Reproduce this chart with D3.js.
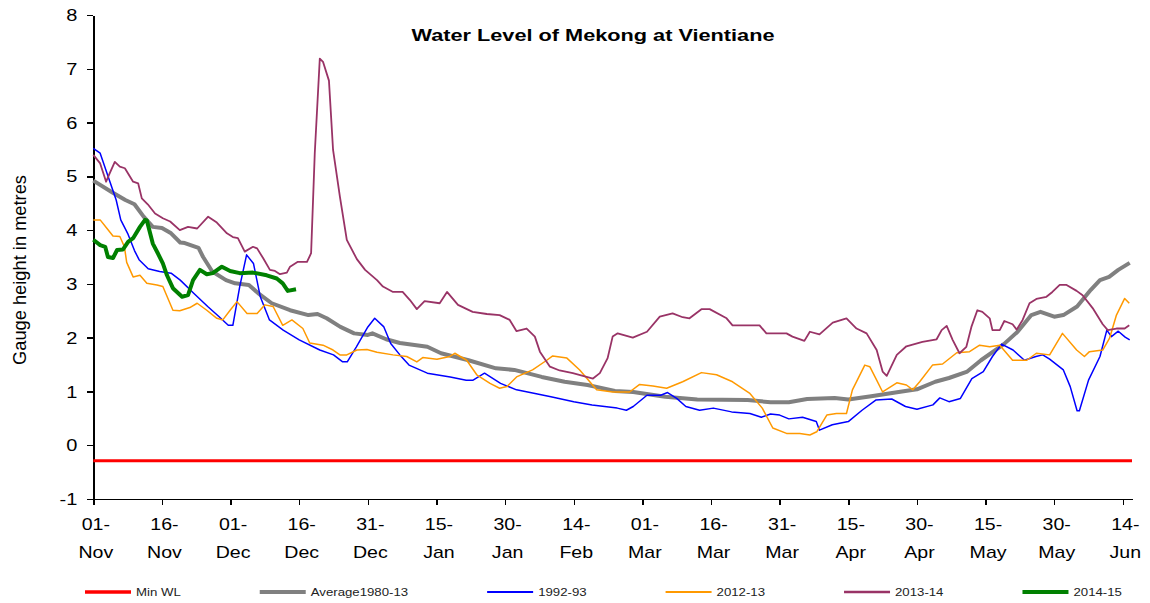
<!DOCTYPE html>
<html>
<head>
<meta charset="utf-8">
<title>Water Level of Mekong at Vientiane</title>
<script src="https://cdn.jsdelivr.net/npm/d3@7"></script>
<style>
    body{ margin:0; background:#fff; }
    text{ font-family:"Liberation Sans", Arial, sans-serif; fill:#000; }
    .axis path, .axis line{ stroke:#000; stroke-width:1.5; shape-rendering:crispEdges; }
    .series{ fill:none; stroke-linejoin:round; }
</style>
</head>
<body>
<script>
// days counted from 01-Nov (day 0) to 16-Jun (day 227)
var tickDays   = [0,15,30,45,60,75,90,105,120,135,150,165,180,195,210,225];
var tickLabels = ["01-Nov","16-Nov","01-Dec","16-Dec","31-Dec","15-Jan","30-Jan","14-Feb",
                  "01-Mar","16-Mar","31-Mar","15-Apr","30-Apr","15-May","30-May","14-Jun"];
var yTicks = [-1,0,1,2,3,4,5,6,7,8];

var seriesNames = ["Min WL","Average1980-13","1992-93","2012-13","2013-14","2014-15"];

// [day, gauge height m]
var minWL = [[0,-0.29],[227,-0.29]];

var avg8013 = [[0,4.92],[4,4.71],[7,4.56],[9,4.48],[11,4.25],[13,4.06],[15,4.04],[17,3.94],[19,3.77],
    [20,3.76],[23,3.67],[24,3.50],[26,3.23],[29,3.07],[31,3.01],[34,2.98],[36,2.83],[39,2.64],[43,2.51],
    [47,2.42],[49,2.44],[51,2.36],[54,2.20],[57,2.08],[60,2.05],[61,2.08],[64,1.97],[67,1.90],[73,1.83],
    [76,1.71],[82,1.58],[88,1.43],[92,1.40],[98,1.27],[103,1.18],[108,1.12],[114,1.01],[118,0.99],
    [125,0.90],[132,0.85],[143,0.84],[148,0.80],[152,0.80],[156,0.86],[162,0.88],[165,0.85],[170,0.91],
    [176,0.99],[180,1.04],[184,1.18],[187,1.25],[191,1.37],[194,1.58],[199,1.88],[202,2.11],[205,2.42],
    [207,2.48],[210,2.39],[212,2.42],[215,2.58],[218,2.89],[220,3.07],[222,3.13],[224,3.26],[226.5,3.39]];

var y1992 = [[0,5.52],[1.5,5.43],[3.5,4.93],[5,4.56],[6,4.19],[7.5,3.94],[9,3.62],[10,3.45],[12,3.28],
    [14.5,3.23],[17,3.20],[19,3.07],[22,2.82],[25,2.58],[27.5,2.39],[29.5,2.23],[30.5,2.23],[32,2.95],
    [33.5,3.54],[35,3.38],[36.5,2.76],[38.5,2.33],[41.5,2.14],[45,1.96],[49.5,1.77],[52.5,1.68],
    [54.5,1.55],[55.5,1.55],[57.5,1.83],[60,2.20],[61.5,2.36],[63.5,2.20],[65,1.89],[67,1.68],[69,1.49],
    [73,1.34],[78,1.27],[81.5,1.21],[83,1.21],[85.5,1.34],[89,1.15],[92.5,1.03],[96,0.97],[100,0.90],
    [105,0.81],[109,0.75],[114.5,0.69],[116.5,0.65],[118,0.72],[121,0.93],[124,0.93],[125.5,0.98],
    [127.5,0.87],[129.5,0.72],[132.5,0.65],[135.5,0.69],[139.5,0.62],[143.5,0.59],[146,0.52],[148,0.58],
    [150,0.56],[152,0.49],[155,0.52],[158,0.44],[158.7,0.28],[161.5,0.38],[165,0.44],[168,0.65],
    [171,0.84],[174.5,0.86],[177.5,0.72],[180,0.67],[183.5,0.75],[185,0.88],[187,0.81],[189.5,0.87],
    [192,1.24],[194.5,1.37],[196.5,1.65],[198.5,1.88],[201,1.77],[203.5,1.58],[206,1.65],[207.5,1.68],
    [209,1.60],[212,1.40],[213.5,1.09],[215,0.64],[215.5,0.64],[217.5,1.21],[220,1.65],[221.5,2.14],
    [222.5,2.02],[224,2.12],[225.5,2.01],[226.5,1.96]];

var y2012 = [[0,4.19],[1.5,4.19],[3,4.03],[4.3,3.89],[5.8,3.88],[6.8,3.69],[7.3,3.40],[8.7,3.13],
    [10.2,3.16],[11.7,3.01],[13.9,2.98],[15.2,2.95],[17.4,2.51],[18.9,2.50],[21.1,2.56],[22.7,2.64],
    [24.8,2.51],[27,2.36],[28.3,2.33],[29.9,2.51],[31.4,2.67],[33.6,2.45],[35.8,2.45],[37.5,2.61],
    [39.3,2.58],[41.4,2.23],[43.4,2.33],[45.8,2.17],[47.3,1.90],[50.2,1.86],[52.4,1.77],[53.9,1.68],
    [55.4,1.68],[57.6,1.77],[59.8,1.78],[62,1.73],[65.5,1.68],[68.5,1.65],[70.7,1.55],[72,1.63],
    [75.1,1.60],[77.9,1.65],[79,1.71],[81.6,1.58],[83.8,1.31],[86.7,1.15],[88.8,1.06],[90.4,1.09],
    [92.5,1.27],[96,1.40],[99.1,1.58],[100.4,1.66],[103.5,1.62],[106.3,1.40],[110,1.03],[113.5,0.99],
    [117.2,0.99],[119.4,1.13],[122.3,1.10],[125.3,1.06],[128.8,1.18],[132.9,1.35],[136.2,1.31],
    [139.7,1.18],[143.4,0.97],[146.2,0.69],[148.5,0.32],[151.5,0.22],[154.4,0.22],[156.6,0.19],
    [158.1,0.25],[160.3,0.56],[162.4,0.59],[164.6,0.59],[165.9,1.03],[168.6,1.49],[169.7,1.46],
    [171.2,1.21],[172.5,0.99],[175.6,1.16],[177.7,1.12],[179.1,1.03],[180.6,1.18],[183.4,1.49],
    [185.6,1.51],[188.7,1.72],[191.5,1.74],[193.7,1.86],[195.9,1.83],[198.1,1.86],[200.9,1.58],
    [204,1.58],[206.1,1.71],[209,1.68],[211.8,2.08],[214.9,1.77],[216.6,1.65],[217.7,1.74],[220.6,1.77],
    [222.1,1.99],[223.6,2.42],[225.4,2.73],[226.4,2.64]];

var y2013 = [[0,5.40],[1.5,5.24],[2.8,4.90],[3.6,5.06],[4.7,5.27],[5.8,5.18],[6.9,5.15],[8.7,4.90],
    [9.8,4.87],[10.6,4.59],[11.9,4.48],[13.5,4.31],[15.2,4.22],[16.8,4.16],[18.9,4.00],[20.7,4.06],
    [22.7,4.03],[25.1,4.25],[27,4.14],[29.2,3.94],[30.5,3.87],[31.6,3.85],[33.1,3.60],[34.9,3.69],
    [35.8,3.66],[37.1,3.48],[38.6,3.26],[39.7,3.24],[40.8,3.18],[42.3,3.21],[43,3.32],[44.7,3.41],
    [46.7,3.41],[47.6,3.57],[48.4,5.43],[49.5,7.19],[50.2,7.13],[51.5,6.78],[52.4,5.49],[53.9,4.62],
    [55.4,3.82],[57.6,3.46],[59.4,3.26],[62,3.07],[63.3,2.95],[65.5,2.85],[67.6,2.85],[69.2,2.70],
    [70.7,2.53],[72.4,2.68],[75.7,2.64],[77.3,2.85],[79.7,2.61],[82.9,2.48],[86,2.44],[88.8,2.42],
    [91,2.33],[92.5,2.12],[94.7,2.17],[96.5,2.02],[97.6,1.74],[99.8,1.46],[101.9,1.39],[104.8,1.34],
    [107.8,1.27],[109.2,1.24],[110.7,1.34],[112.4,1.62],[113.5,2.02],[114.6,2.08],[117.9,2.00],
    [121,2.11],[123.8,2.39],[126.6,2.45],[128.8,2.38],[130.3,2.36],[132.9,2.53],[134.7,2.53],
    [138.4,2.36],[139.7,2.23],[145.6,2.23],[147.1,2.08],[151.5,2.08],[152.8,2.02],[155.4,1.94],
    [156.6,2.11],[158.7,2.06],[161.6,2.28],[164.6,2.36],[166.8,2.17],[169,2.08],[171.2,1.77],
    [172.5,1.37],[173.4,1.29],[175.6,1.68],[177.7,1.84],[181.2,1.92],[184.3,1.97],[185.4,2.14],
    [186.5,2.22],[187.8,1.96],[189.3,1.71],[190.8,1.83],[191.9,2.20],[193.2,2.51],[194.3,2.48],
    [195.9,2.36],[196.5,2.14],[198.1,2.14],[199.1,2.31],[200.9,2.25],[201.8,2.15],[203.1,2.33],
    [204.6,2.64],[206.1,2.72],[208.3,2.76],[209.6,2.85],[211.2,2.98],[212.7,2.98],[214.9,2.87],
    [216.2,2.79],[218.4,2.55],[220.6,2.25],[221.7,2.14],[223.6,2.17],[225.4,2.17],[226.4,2.23]];

var y2014 = [[0,3.82],[1.5,3.72],[2.6,3.69],[3.2,3.50],[4.3,3.48],[5.2,3.63],[6.5,3.64],[7.6,3.78],
    [8.7,3.85],[10.2,4.06],[11.3,4.19],[11.7,4.18],[13,3.75],[14.1,3.57],[15.2,3.38],[16.1,3.16],
    [17.4,2.92],[19.4,2.76],[20.7,2.79],[21.8,3.07],[23.3,3.26],[24.8,3.18],[26.1,3.20],[28.1,3.32],
    [29.9,3.24],[32,3.20],[34.9,3.21],[37.9,3.16],[40.1,3.10],[41.4,3.01],[42.5,2.87],[44.3,2.90]];

var seriesData   = [minWL, avg8013, y1992, y2012, y2013, y2014];
var seriesColors = ["#ff0000","#808080","#0000ff","#ff9900","#993366","#008000"];
var seriesWidths = [3, 4, 1.5, 1.5, 1.8, 4];

var width = 1150, height = 603;
var svg = d3.select("body").append("svg")
    .attr("width", width)
    .attr("height", height);
svg.append("rect").attr("width", width).attr("height", height).attr("fill", "#fff");

var x = d3.scaleLinear().domain([0, 227]).range([93.3, 1132]);
var y = d3.scaleLinear().domain([-1, 8]).range([499, 15]);

// stretch text horizontally (the original chart's lettering is wide)
function stretch(sel, k){
    sel.each(function(){
        var w = this.getComputedTextLength();
        d3.select(this).attr("textLength", w * k).attr("lengthAdjust", "spacingAndGlyphs");
    });
}

// y axis
var yAxis = svg.append("g").attr("class", "axis")
    .attr("transform", "translate(" + x(0) + ",0)")
    .call(d3.axisLeft(y).tickValues(yTicks).tickSize(6).tickSizeOuter(0).tickPadding(10)
        .tickFormat(function(d){ return String(d); }));
yAxis.selectAll("text").style("font-size", "16px").attr("dy", "0.35em");
stretch(yAxis.selectAll("text"), 1.25);

// x axis
var xAxis = svg.append("g").attr("class", "axis")
    .attr("transform", "translate(0," + y(-1) + ")")
    .call(d3.axisBottom(x).tickValues(tickDays).tickSize(6).tickSizeOuter(0).tickFormat(""));
xAxis.selectAll(".tick").each(function(d, i){
    var parts = tickLabels[i].split("-");
    var g = d3.select(this);
    g.append("text").attr("x", 2).attr("y", 31).attr("text-anchor", "middle")
        .style("font-size", "17px").text(parts[0] + "-");
    g.append("text").attr("x", 2).attr("y", 59).attr("text-anchor", "middle")
        .style("font-size", "17px").text(parts[1]);
});
stretch(xAxis.selectAll("text"), 1.15);

// series
var line = d3.line().x(function(d){ return x(d[0]); }).y(function(d){ return y(d[1]); });
seriesData.forEach(function(data, i){
    svg.append("path").attr("class", "series")
        .attr("d", line(data))
        .attr("stroke", seriesColors[i])
        .attr("stroke-width", seriesWidths[i]);
});

// title
var title = svg.append("text").attr("x", 593).attr("y", 41).attr("text-anchor", "middle")
    .style("font-size", "17px").style("font-weight", "bold")
    .text("Water Level of Mekong at Vientiane");
title.attr("textLength", 363).attr("lengthAdjust", "spacingAndGlyphs");

// y label
svg.append("text")
    .attr("transform", "translate(26,270) rotate(-90)")
    .attr("text-anchor", "middle")
    .style("font-size", "17.5px")
    .attr("textLength", 190).attr("lengthAdjust", "spacingAndGlyphs")
    .text("Gauge height in metres");

// legend
var legendY = 592, lx = 85;
seriesNames.forEach(function(name, i){
    svg.append("line")
        .attr("x1", lx).attr("x2", lx + 46)
        .attr("y1", legendY).attr("y2", legendY)
        .attr("stroke", seriesColors[i])
        .attr("stroke-width", Math.min(seriesWidths[i] + 0.5, 4));
    var t = svg.append("text").attr("x", lx + 51).attr("y", legendY + 4)
        .style("font-size", "11px").style("fill", "#222").text(name);
    stretch(t, 1.2);
    lx += 51 + (+t.attr("textLength")) + 79;
});
</script>
</body>
</html>
